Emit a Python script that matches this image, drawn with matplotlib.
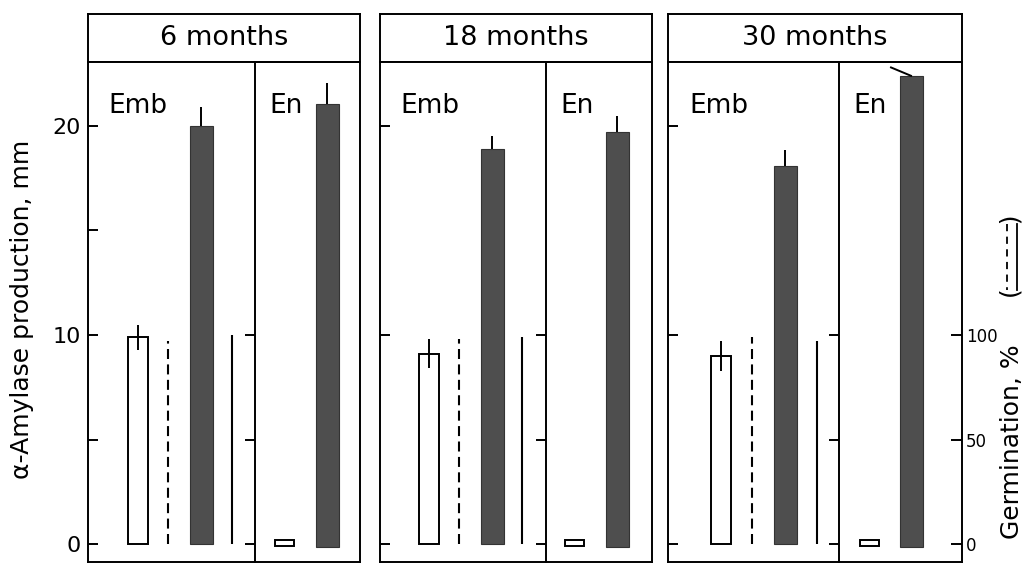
import matplotlib
matplotlib.use("Agg")
import matplotlib.pyplot as plt
from matplotlib.lines import Line2D

# ---- data -------------------------------------------------------------
ages = ["6 months", "18 months", "30 months"]
section_names = ["Emb", "En"]

# alpha-amylase production (mm), embryo halves
emb_open = [9.9, 9.1, 9.0]
emb_open_err = [0.6, 0.7, 0.7]
emb_dark = [20.0, 18.9, 18.1]
emb_dark_err = [0.9, 0.6, 0.75]

# germination (%)
germ_dashed = [97, 98, 99]
germ_solid = [100, 99, 97]

# alpha-amylase production (mm), endosperm halves
en_open = [0.2, 0.2, 0.2]
en_dark = [21.05, 19.7, 22.4]
en_dark_err = [1.0, 0.8, 0.4]

amylase_ticks_first = [0, 5, 10, 15, 20]
amylase_ticks_other = [0, 10, 20]
amylase_labels = {0: "0", 10: "10", 20: "20"}
germ_ticks = [0, 50, 100]

# ---- layout (pixels) ----------------------------------------------------
W, H = 1028, 563
panel_left = [88, 380, 668]
panel_div = [255, 546, 839]
panel_right = [360, 652, 962]
title_top, title_bot, plot_bot = 14, 62, 562
emb_x = [[50, 80, 113, 144], [49, 79, 112, 142], [53, 84, 117, 149]]
en_x = [[29, 72], [28, 71], [30, 72]]
ylo, yhi = -0.86, 23.06
germ_scale = 10.0  # % per mm

dark = "#4e4e4e"
lw = 1.4
dash = (0, (4.8, 2.6))

plt.rcParams["font.family"] = ["DejaVu Sans"]
fig = plt.figure(figsize=(W / 100, H / 100), dpi=100)


def rect(x0, x1, ytop, ybot):
    return [x0 / W, 1 - ybot / H, (x1 - x0) / W, (ybot - ytop) / H]


for p in range(3):
    # title box
    tax = fig.add_axes(rect(panel_left[p], panel_right[p], title_top, title_bot))
    tax.set_xticks([])
    tax.set_yticks([])
    for s in tax.spines.values():
        s.set_linewidth(lw)
    tax.text(0.5, 0.5, ages[p], ha="center", va="center", fontsize=19.5,
             transform=tax.transAxes)

    # embryo section
    ew = panel_div[p] - panel_left[p]
    ax = fig.add_axes(rect(panel_left[p], panel_div[p], title_bot, plot_bot))
    ax.set_xlim(0, ew)
    ax.set_ylim(ylo, yhi)
    for s in ax.spines.values():
        s.set_linewidth(lw)
    ax.set_xticks([])
    ticks = amylase_ticks_first if p == 0 else amylase_ticks_other
    ax.set_yticks(ticks)
    if p == 0:
        ax.set_yticklabels([amylase_labels.get(t, "") for t in ticks])
    else:
        ax.set_yticklabels([])
    ax.tick_params(axis="y", direction="in", length=7, width=lw,
                   labelsize=16, pad=5)

    xo, xd, xk, xs = emb_x[p]
    ax.bar(xo, emb_open[p], width=20, bottom=0, fill=False,
           edgecolor="black", linewidth=lw)
    ax.errorbar(xo, emb_open[p], yerr=emb_open_err[p], fmt="none",
                ecolor="black", elinewidth=lw, capsize=0)
    ax.bar(xk, emb_dark[p], width=23, bottom=0, color=dark,
           edgecolor="#333333", linewidth=0.8)
    ax.errorbar(xk, emb_dark[p], yerr=[[0], [emb_dark_err[p]]], fmt="none",
                ecolor="black", elinewidth=lw, capsize=0)
    ax.text(20 / ew + (0.01 if p == 2 else 0), 0.912, section_names[0],
            transform=ax.transAxes, fontsize=19, ha="left", va="center")

    # germination scale on the divider
    gax = ax.twinx()
    gax.set_ylim(ylo * germ_scale, yhi * germ_scale)
    gax.set_yticks(germ_ticks)
    gax.set_yticklabels([])
    gax.tick_params(axis="y", direction="in", length=7, width=lw)
    for s in gax.spines.values():
        s.set_visible(False)
    gax.vlines(xd, 0, germ_dashed[p], colors="black", linewidth=1.5,
               linestyles=[dash])
    gax.vlines(xs, 0, germ_solid[p], colors="black", linewidth=1.5)

    # endosperm section
    nw = panel_right[p] - panel_div[p]
    bx = fig.add_axes(rect(panel_div[p], panel_right[p], title_bot, plot_bot))
    bx.set_xlim(0, nw)
    bx.set_ylim(ylo, yhi)
    bx.patch.set_alpha(0)
    for s in bx.spines.values():
        s.set_linewidth(lw)
    bx.spines["left"].set_visible(False)
    bx.set_xticks([])
    bx.set_yticks([])
    xo2, xk2 = en_x[p]
    bx.bar(xo2, en_open[p] + 0.1, width=19, bottom=-0.1, fill=False,
           edgecolor="black", linewidth=lw)
    bx.bar(xk2, en_dark[p] + 0.12, width=23, bottom=-0.12, color=dark,
           edgecolor="#333333", linewidth=0.8)
    if p == 2:
        bx.plot([xk2 - 20, xk2], [en_dark[p] + en_dark_err[p], en_dark[p]],
                color="black", linewidth=lw)
    else:
        bx.errorbar(xk2, en_dark[p], yerr=[[0], [en_dark_err[p]]], fmt="none",
                    ecolor="black", elinewidth=lw, capsize=0)
    bx.text(14 / nw, 0.912, section_names[1], transform=bx.transAxes,
            fontsize=19, ha="left", va="center")

    if p == 2:
        rg = bx.twinx()
        rg.set_ylim(ylo * germ_scale, yhi * germ_scale)
        for s in rg.spines.values():
            s.set_visible(False)
        rg.set_yticks(germ_ticks)
        rg.set_yticklabels([str(t) for t in germ_ticks])
        rg.tick_params(axis="y", direction="in", length=8, width=lw,
                       labelsize=12, pad=3)

# axis titles
fig.text(22 / W, 1 - 309 / H, "α-Amylase production, mm", rotation=90,
         ha="center", va="center", fontsize=18)
fig.text(1012 / W, 1 - 442 / H, "Germination, %", rotation=90,
         ha="center", va="center", fontsize=18)
fig.text(1011 / W, 1 - 256 / H, "(        )", rotation=90,
         ha="center", va="center", fontsize=18)
fig.add_artist(Line2D([1007 / W, 1007 / W], [1 - 224 / H, 1 - 290 / H],
                      transform=fig.transFigure, color="black",
                      linewidth=1.3, linestyle=(0, (4, 3))))
fig.add_artist(Line2D([1017 / W, 1017 / W], [1 - 224 / H, 1 - 290 / H],
                      transform=fig.transFigure, color="black",
                      linewidth=1.3))

fig.savefig("out.png", dpi=100)
